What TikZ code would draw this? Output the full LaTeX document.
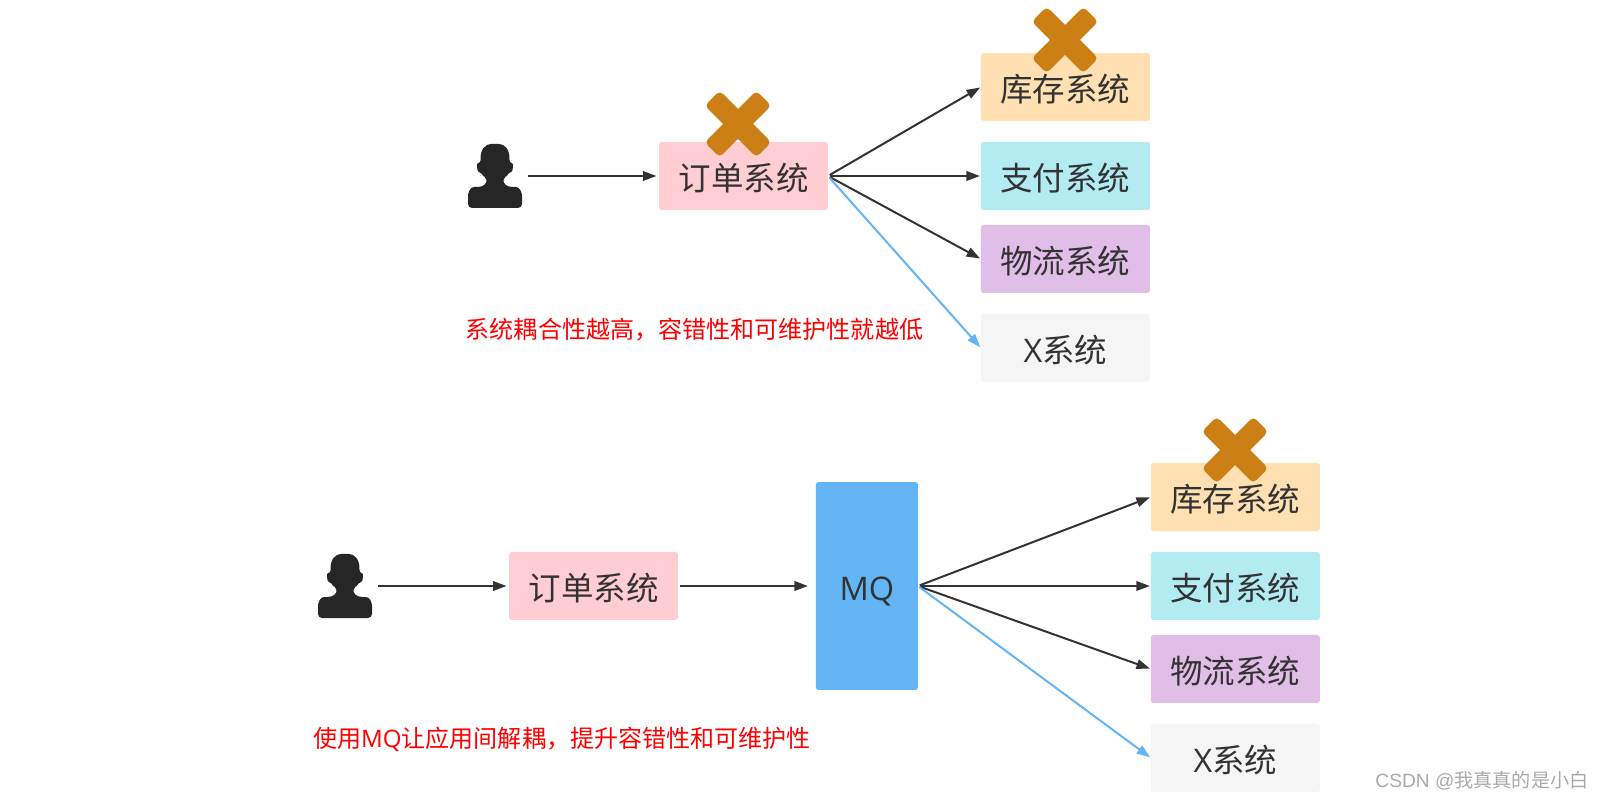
\documentclass[tikz,border=0pt]{standalone}
\usepackage{fontspec}
\setmainfont{Noto Sans CJK SC}
\newfontfamily\latinfont{Open Sans}
\newfontfamily\markfont{Liberation Sans}
\usetikzlibrary{
arrows.meta,
calc,
positioning
}
\definecolor{ordercolor}{HTML}{FFCDD2}
\definecolor{stockcolor}{HTML}{FFE0B2}
\definecolor{paycolor}{HTML}{B2EBF2}
\definecolor{logisticscolor}{HTML}{E1BEE7}
\definecolor{xsyscolor}{HTML}{F5F5F5}
\definecolor{mqcolor}{HTML}{64B5F6}
\definecolor{crosscolor}{HTML}{CC7F14}
\definecolor{inkcolor}{HTML}{333333}
\definecolor{usercolor}{HTML}{262626}
\definecolor{markcolor}{HTML}{AAAAAA}
\tikzset{>={Triangle[length=.27cm,width=.19cm]}}
\tikzset{
	sysbox/.style={rectangle,rounded corners=.05cm,inner sep=0pt,outer sep=0pt,minimum width=3.38cm,minimum height=1.36cm,text height=20pt,text depth=3pt,text=inkcolor,font=\fontsize{18.5}{20}\selectfont},
	usernode/.style={rectangle,inner sep=0pt,outer sep=0pt,minimum width=1.08cm,minimum height=1.28cm},
	note/.style={text=red,inner sep=0pt,font=\fontsize{13.7}{16}\selectfont},
	link/.style={->,line width=.04cm,draw=inkcolor,shorten >=.02cm,shorten <=.04cm},
	lostlink/.style={link,draw=mqcolor,mqcolor},
	cross/.pic={
		\path[fill=crosscolor,rounded corners=.09cm,rotate=45] (-36.5,-10.6) rectangle (36.5,10.6);
		\path[fill=crosscolor,rounded corners=.09cm,rotate=45] (-10.6,-36.5) rectangle (10.6,36.5);
	},
	person/.pic={
		\path[fill=usercolor,rounded corners=.08cm] (-14,-13) .. controls (-15,-27) and (-9,-32) .. (0,-32) .. controls (9,-32) and (15,-27) .. (14,-13)
			.. controls (18,-12) and (18,-5) .. (13,-3) .. controls (12,-1) and (10,1) .. (8,3) -- (8,7) -- (13,11) -- (17,11)
			.. controls (25,11) and (27,17) .. (27,24) -- (27,32) -- (-27,32) -- (-27,24) .. controls (-27,17) and (-25,11) .. (-17,11)
			-- (-13,11) -- (-8,7) -- (-8,3) .. controls (-10,1) and (-12,-1) .. (-13,-3) .. controls (-18,-5) and (-18,-12) .. (-14,-13) -- cycle;
	}
}

\begin{document}
\begin{tikzpicture}[x=.02cm,y=-.02cm]
		\useasboundingbox[fill=white] (0,0) rectangle (1600,800);

		\node[usernode] (user1) at (495,176) {};
		\pic at (user1) {person};
		\node[sysbox,fill=ordercolor] (order1) at (743.5,176) {订单系统};
		\node[sysbox,fill=paycolor,right=3.06cm of order1] (pay1) {支付系统};
		\node[sysbox,fill=stockcolor,above=.42cm of pay1] (stock1) {库存系统};
		\node[sysbox,fill=logisticscolor,below=.3cm of pay1] (logistics1) {物流系统};
		\node[sysbox,fill=xsyscolor,below=.42cm of logistics1] (xsys1) {{\latinfont X}系统};
		\node[note] (note1) at (694.5,330) {系统耦合性越高，容错性和可维护性就越低};

		\draw[link,shorten <=.12cm,shorten >=.05cm] (user1) -- (order1);
		\draw[link] (order1.east) -- (stock1.west);
		\draw[link] (order1.east) -- (pay1.west);
		\draw[link] (order1.east) -- (logistics1.west);
		\draw[lostlink] (order1.east) -- (xsys1.west);

		\pic at (738,124) {cross};
		\pic at (1065,40) {cross};

		\node[usernode] (user2) at (345,586) {};
		\pic at (user2) {person};
		\node[sysbox,fill=ordercolor] (order2) at (593.5,586) {订单系统};
		\node[sysbox,fill=mqcolor,minimum width=2.04cm,minimum height=4.16cm,right=2.76cm of order2] (mq) {\latinfont MQ};
		\node[sysbox,fill=paycolor,right=4.66cm of mq] (pay2) {支付系统};
		\node[sysbox,fill=stockcolor,above=.42cm of pay2] (stock2) {库存系统};
		\node[sysbox,fill=logisticscolor,below=.3cm of pay2] (logistics2) {物流系统};
		\node[sysbox,fill=xsyscolor,below=.42cm of logistics2] (xsys2) {{\latinfont X}系统};
		\node[note] (note2) at (562,739) {使用{\latinfont MQ}让应用间解耦，提升容错性和可维护性};

		\draw[link,shorten <=.12cm,shorten >=.05cm] (user2) -- (order2);
		\draw[link,shorten >=.16cm] (order2) -- (mq);
		\draw[link] (mq.east) -- (stock2.west);
		\draw[link] (mq.east) -- (pay2.west);
		\draw[link] (mq.east) -- (logistics2.west);
		\draw[lostlink] (mq.east) -- (xsys2.west);

		\pic at (1235,450) {cross};

		\node[text=markcolor,inner sep=0pt,font=\fontsize{10.9}{14}\selectfont] (mark) at (1482,781) {{\markfont CSDN @}我真真的是小白};
	\end{tikzpicture}
\end{document}
